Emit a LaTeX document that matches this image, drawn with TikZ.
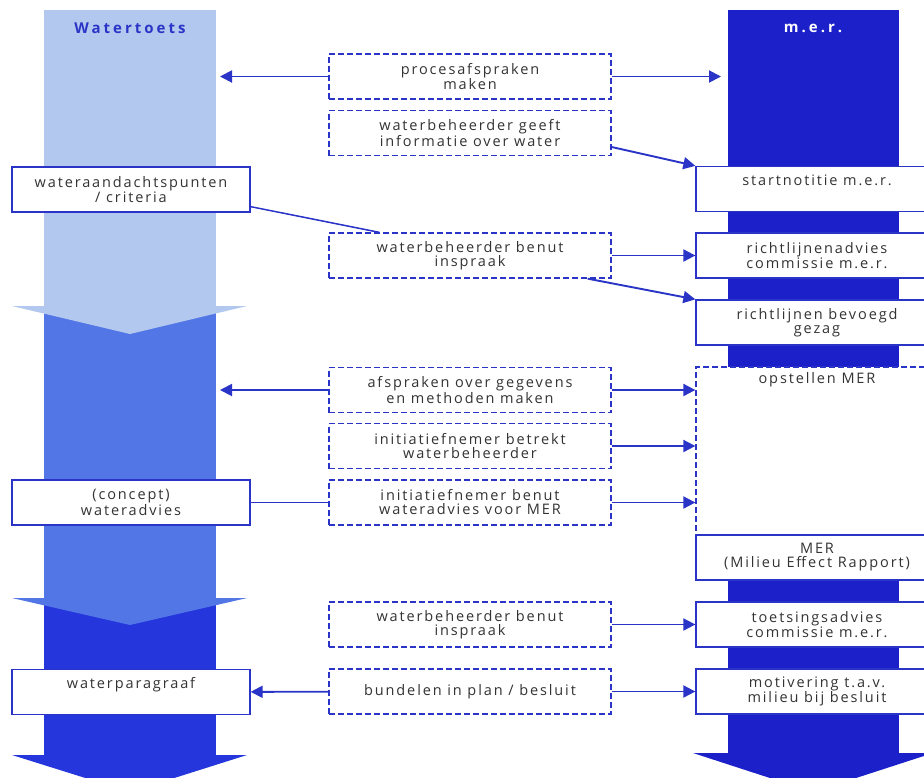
\documentclass[tikz,border=0pt]{standalone}
\usepackage{fontspec}
\setmainfont{Open Sans}[LetterSpace=13]
\usetikzlibrary{arrows.meta,positioning}

\definecolor{lichtblauw}{HTML}{B2C8EE}
\definecolor{middenblauw}{HTML}{5276E5}
\definecolor{donkerblauw}{HTML}{2436DC}
\definecolor{merblauw}{HTML}{1B20C9}
\definecolor{lijnblauw}{HTML}{2A34C6}
\definecolor{tekstgrijs}{HTML}{333333}

\tikzset{
  vak/.style={draw=lijnblauw, line width=1.3pt, fill=white, text=tekstgrijs, align=center,
    minimum height=45pt, inner sep=2pt, font=\fontsize{14.5}{14}\selectfont},
  linksvak/.style={vak, minimum width=238pt},
  mervak/.style={vak, minimum width=242pt},
  streepvak/.style={vak, dash pattern=on 6pt off 3pt, minimum width=282pt},
  pijl/.style={draw=lijnblauw, line width=1.9pt, -{Triangle[length=12pt,width=12pt]}},
  lijntje/.style={draw=lijnblauw, line width=1.5pt},
  kop/.style={font=\bfseries\fontsize{15}{16}\selectfont\addfontfeature{LetterSpace=20}},
}

\begin{document}
\begin{tikzpicture}[x=1pt,y=-1pt]
\clip (0,0) rectangle (924,777);
\fill[white] (0,0) rectangle (924,777);

% kolom watertoets
\fill[donkerblauw] (44,600) rectangle (216,760);
\fill[donkerblauw] (12,755) -- (247,755) -- (130,792) -- cycle;
\fill[middenblauw] (44,306) rectangle (216,600);
\fill[middenblauw] (12,598) -- (247,598) -- (130,625) -- cycle;
\fill[lichtblauw] (44,10) rectangle (216,308);
\fill[lichtblauw] (12,306) -- (247,306) -- (130,334) -- cycle;

% kolom m.e.r.
\fill[merblauw] (728,10) rectangle (899,760);
\fill[merblauw] (693,753) -- (933,753) -- (813,792) -- cycle;

\node[kop, text=lijnblauw] (watertoets) at (130,28) {Watertoets};
\node[kop, text=white] (mer) at (813,28) {m.e.r.};

% vakken links
\node[linksvak] (punten) at (131,189.5) {wateraandachtspunten\\/ criteria};
\node[linksvak] (advies) at (131,502.5) {(concept)\\wateradvies};
\node[linksvak] (paragraaf) at (131,692) {waterparagraaf\\ \strut};

% vakken midden
\node[streepvak] (proces) at (470,76.5) {procesafspraken\\maken};
\node[streepvak] (info) at (470,133) {waterbeheerder geeft\\informatie over water};
\node[streepvak] (inspraak) at (470,255.5) {waterbeheerder benut\\inspraak};
\node[streepvak] (gegevens) at (470,390) {afspraken over gegevens\\en methoden maken};
\node[streepvak] (betrekt) at (470,446) {initiatiefnemer betrekt\\waterbeheerder};
\node[streepvak] (benut) at (470,502.5) {initiatiefnemer benut\\wateradvies voor MER};
\node[streepvak] (inspraaktwee) at (470,624.5) {waterbeheerder benut\\inspraak};
\node[streepvak] (bundel) at (470,691.5) {bundelen in plan / besluit};

% vakken rechts
\node[mervak] (start) at (817,189) {startnotitie m.e.r.\\ \strut};
\node[mervak] (richtadvies) at (817,255.5) {richtlijnenadvies\\commissie m.e.r.};
\node[mervak] (bevoegd) at (817,322.5) {richtlijnen bevoegd\\gezag};
\node[mervak, dash pattern=on 6pt off 3pt, minimum height=168pt,
  label={[anchor=north, text=tekstgrijs, font=\fontsize{14.5}{14}\selectfont, inner sep=6pt]north:opstellen MER}] (opstellen) at (817,451) {};
\node[mervak] (rapport) at (817,557.5) {MER\\(Milieu Effect Rapport)};
\node[mervak] (toets) at (817,624.5) {toetsingsadvies\\commissie m.e.r.};
\node[mervak] (motivering) at (817,691.5) {motivering t.a.v.\\milieu bij besluit};

% verbindingen
\coordinate (wtproces) at (220,76.5);
\coordinate (merproces) at (721,76.5);
\coordinate (wtgegevens) at (220,390);
\draw[pijl] (proces) -- (wtproces);
\draw[pijl] (proces) -- (merproces);
\draw[pijl] ([yshift=-14pt]info.east) -- (start.north west);
\draw[lijntje] ([yshift=6pt]punten.south east) -- ([xshift=51pt]inspraak.north west);
\draw[pijl] (inspraak) -- (richtadvies);
\draw[pijl] ([xshift=-24pt]inspraak.south east) -- (bevoegd.north west);
\draw[pijl] (gegevens) -- (wtgegevens);
\draw[pijl] (gegevens) -- (gegevens -| opstellen.west);
\draw[pijl] (betrekt) -- (betrekt -| opstellen.west);
\draw[lijntje] (advies) -- (benut);
\draw[pijl] (benut) -- (benut -| opstellen.west);
\draw[pijl] (inspraaktwee) -- (toets);
\draw[pijl] (bundel) -- (paragraaf);
\draw[pijl] (bundel) -- (motivering);

\end{tikzpicture}
\end{document}
